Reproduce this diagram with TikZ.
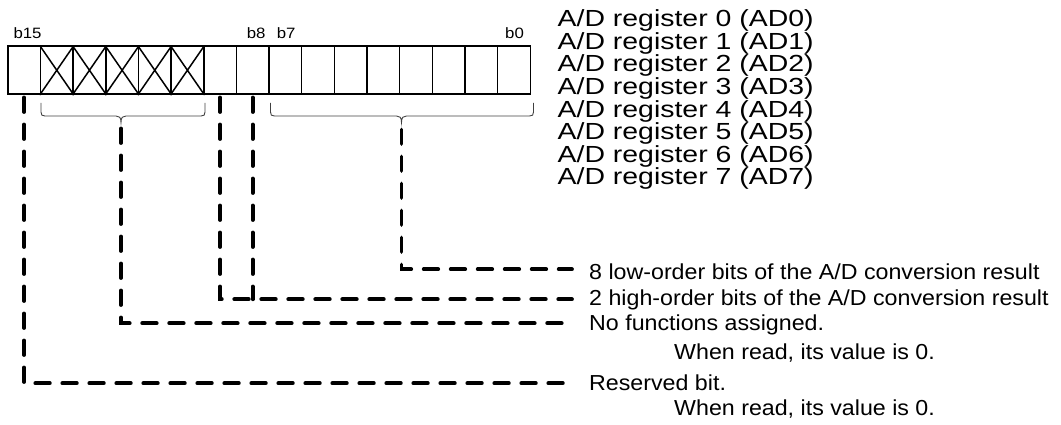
\documentclass[tikz,border=0pt]{standalone}
\usepackage{fontspec}
\setmainfont{Liberation Sans}
\newfontfamily\bigf[FakeStretch=1.22]{Liberation Sans}
\newfontfamily\midf[FakeStretch=1.07]{Liberation Sans}
\newfontfamily\smallf[FakeStretch=1.12]{Liberation Sans}
\begin{document}
\begin{tikzpicture}[x=1pt,y=-1pt,
  cell/.style={draw,line width=1.5pt,minimum width=32.66pt,minimum height=48pt,inner sep=0pt},
  bitlbl/.style={anchor=base west,inner sep=0pt,font=\smallf\fontsize{15}{15}\selectfont},
  reglbl/.style={anchor=base west,inner sep=0pt,font=\bigf\fontsize{23.3}{22.6}\selectfont},
  desc/.style={anchor=base west,inner sep=0pt,font=\midf\fontsize{21.7}{21.7}\selectfont},
  dline/.style={line width=3.8pt,dash pattern=on 14.5pt off 12.5pt,line cap=round},
  bracestyle/.style={line width=0.9pt,draw=black!75}]
\useasboundingbox (0,0) rectangle (1061,425);
% register cells
\foreach \i in {0,...,15}{
  \node[cell] (c\i) at ({7.8+32.66*(15-\i)+16.33},70.25) {};
}
\foreach \i in {10,...,14}{
  \draw[line width=1.5pt] (c\i.north west) -- (c\i.south east) (c\i.north east) -- (c\i.south west);
}
% bit labels
\node[bitlbl] (lb15) at (13.3,39) {b15};
\node[bitlbl] (lb8) at (246.7,39) {b8};
\node[bitlbl] (lb7) at (276.7,39) {b7};
\node[bitlbl] (lb0) at (505,39) {b0};
% register names
\foreach \k in {0,...,7}{
  \node[reglbl] (r\k) at (557.5,{26.7+22.6*\k}) {A/D register \k\ (AD\k)};
}
% braces
\draw[bracestyle] (41,103) -- (41,112) .. controls (41,115) and (42,116) .. (45,116) -- (116,116)
  .. controls (119,116) and (121,117) .. (121,122.5) .. controls (121,117) and (123,116) .. (126,116)
  -- (201,116) .. controls (204,116) and (205,115) .. (205,112) -- (205,103);
\draw[bracestyle] (270.5,103) -- (270.5,112) .. controls (270.5,115) and (271.5,116) .. (274.5,116) -- (396.5,116)
  .. controls (399.5,116) and (401.5,117) .. (401.5,122.5) .. controls (401.5,117) and (403.5,116) .. (406.5,116)
  -- (529.5,116) .. controls (532.5,116) and (533.5,115) .. (533.5,112) -- (533.5,103);
\coordinate (t1) at (121,128.5);
\coordinate (t2) at (401.5,129.5);
% end points of leaders
\coordinate (e8) at (572,269.3);
\coordinate (e2) at (572,299.3);
\coordinate (eN) at (572,323.3);
\coordinate (eR) at (572,383.3);
% descriptions
\node[desc] (l8) at (589,279.8) {8 low-order bits of the A/D conversion result};
\node[desc] (l2) at (589,305.8) {2 high-order bits of the A/D conversion result};
\node[desc] (lN) at (589,330.8) {No functions assigned.};
\node[desc] (lN2) at (674,359.7) {When read, its value is 0.};
\node[desc] (lR) at (589,390.8) {Reserved bit.};
\node[desc] (lR2) at (674,415.7) {When read, its value is 0.};
% dashed leaders
\draw[dline] ([yshift=-2.5pt]c15.south) |- (eR);
\draw[dline] (t1) |- (eN);
\draw[dline] ([yshift=-2.5pt]c9.south) |- (e2);
\draw[dline] ([yshift=-2.5pt]c8.south) -- (c8.south |- e2);
\draw[dline] (t2) |- (e8);
\end{tikzpicture}
\end{document}
